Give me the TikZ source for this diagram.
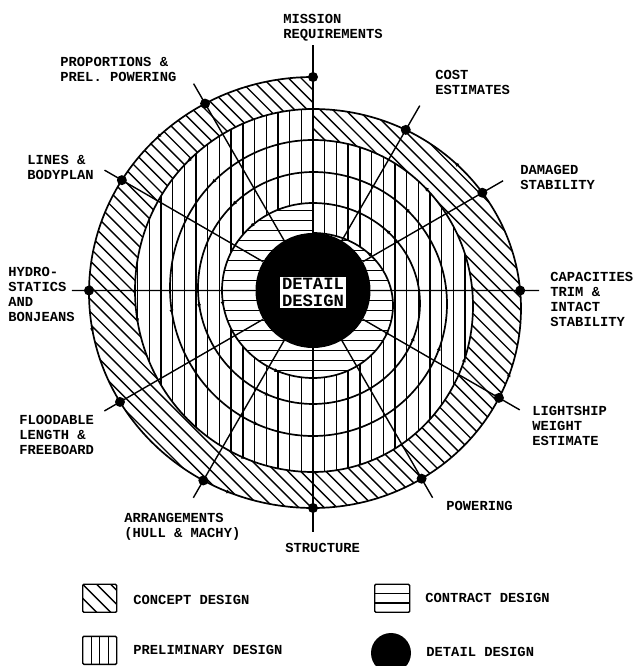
\documentclass[tikz,border=0pt]{standalone}
\usepackage{fontspec}
\setmonofont{Liberation Mono}
\usepackage{tikz}
\usetikzlibrary{calc, intersections, arrows.meta, decorations.markings}

\newcommand{\spiraltip}{\arrow{Latex[length=2.8pt,width=2pt]}}

\tikzset{
  spiralline/.style={line width=0.85pt, black},
  hatchline/.style={line width=0.7pt, black},
  spoke/.style={line width=0.7pt, black},
  spokedot/.style={circle, fill=black, inner sep=0pt, minimum size=5pt},
  lbl/.style={anchor=north west, inner sep=0pt, align=left,
              font=\ttfamily\bfseries\fontsize{6.9pt}{7.5pt}\selectfont},
  legbox/.style={draw, line width=0.7pt, rounded corners=0.6pt, inner sep=0pt,
                 minimum width=17pt, minimum height=14pt, anchor=south west},
  % small direction marks along the spiral
  leftmarks/.style={postaction={decorate, decoration={markings,
      mark=at position 0.25 with {\spiraltip},
      mark=at position 0.56 with {\spiraltip},
      mark=at position 0.88 with {\spiraltip}}}},
  rightmarks/.style={postaction={decorate, decoration={markings,
      mark=at position 0.40 with {\spiraltip},
      mark=at position 0.76 with {\spiraltip}}}},
}

\begin{document}
\begin{tikzpicture}[x=0.5pt, y=0.5pt]
\useasboundingbox (0,0) rectangle (633,666);
\fill[white] (0,0) rectangle (633,666);

%% ── spiral anchor points (top / bottom of each half turn) ──
\coordinate (C) at (313,375.5);
\foreach \i/\y in {0/589, 1/557, 2/526, 3/494, 4/463, 5/433}
  \coordinate (T\i) at (313,\y);
\foreach \i/\y in {0/158, 1/194, 2/230, 3/262, 4/288}
  \coordinate (B\i) at (313,\y);

%% ── concept design band (outer turn) ──
\begin{scope}
  \clip (T0) arc[start angle=90, end angle=270, x radius=224, y radius=215.5]
             arc[start angle=-90, end angle=90, x radius=208, y radius=199.5]
        -- (T2) arc[start angle=90, end angle=-90, x radius=160, y radius=166]
             arc[start angle=270, end angle=90, x radius=178, y radius=181.5] -- cycle;
  \foreach \c in {0,12.7,...,1350}
    \draw[hatchline] (\c,0) -- ++(-700,700);
\end{scope}

%% ── preliminary design band (three turns) ──
\begin{scope}
  \clip (T1) arc[start angle=90, end angle=270, x radius=178, y radius=181.5]
             arc[start angle=-90, end angle=90, x radius=160, y radius=166]
        -- (T5) arc[start angle=90, end angle=-90, x radius=80, y radius=72.5]
             arc[start angle=270, end angle=90, x radius=91, y radius=87.5] -- cycle;
  \foreach \k in {-21,...,21}
    \draw[hatchline] ({313+11.7*\k},0) -- ++(0,666);
\end{scope}

%% ── contract design band (innermost turn) ──
\begin{scope}
  \clip (T4) arc[start angle=90, end angle=270, x radius=91, y radius=87.5]
             arc[start angle=-90, end angle=90, x radius=80, y radius=72.5] -- cycle;
  \foreach \k in {-10,...,10}
    \draw[hatchline] (0,{375.5+10*\k}) -- ++(633,0);
\end{scope}

%% ── the spiral itself ──
\foreach \i/\xr/\yr in {0/224/215.5, 1/178/181.5, 2/143/148, 3/115/116, 4/91/87.5}
  \draw[spiralline, leftmarks] (T\i) arc[start angle=90, end angle=270, x radius=\xr, y radius=\yr];
\foreach \i/\xr/\yr in {0/208/199.5, 1/160/166, 2/134/132, 3/107/100.5, 4/80/72.5}
  \draw[spiralline, rightmarks] (B\i) arc[start angle=-90, end angle=90, x radius=\xr, y radius=\yr];

%% ── spoke points on the outer turn ──
\path[name path=outerturn] (T0) arc[start angle=90, end angle=270, x radius=224, y radius=215.5]
                                arc[start angle=-90, end angle=90, x radius=208, y radius=199.5];
\coordinate (dmis) at (T0);
\coordinate (dstr) at (B0);
\foreach \ang/\nm in {0/cap, 30/dam, 60/cost, 120/prop, 150/lines, 180/hydro,
                      210/flood, 240/arr, 300/pow, 330/light} {
  \path[name path=ray] (C) -- ++(\ang:300);
  \path[name intersections={of=outerturn and ray, by=d\nm}];
}

%% ── detail design core ──
\node[circle, fill=black, inner sep=0pt, minimum size=57.5pt] (detaildisk) at (C) {};

\foreach \nm/\len in {mis/16pt, cost/14pt, dam/12pt, cap/9.5pt, light/12pt, pow/11pt,
                      str/12pt, arr/10pt, flood/9pt, hydro/8.5pt, lines/10pt, prop/11.5pt} {
  \coordinate (e\nm) at ($(d\nm)!-\len!(C)$);
  \draw[spoke] (detaildisk) -- (e\nm);
}
\foreach \nm in {mis, cost, dam, cap, light, pow, str, arr, flood, hydro, lines, prop}
  \node[spokedot] (p\nm) at (d\nm) {};

\node[draw, fill=white, line width=0.8pt, inner sep=1.2pt, align=center,
      font=\ttfamily\bfseries\fontsize{8.6pt}{8.2pt}\selectfont] (detlabel) at (313,373.5) {DETAIL\\DESIGN};

%% ── step labels ──
\node[lbl] (lmis)   at (283,652) {MISSION\\REQUIREMENTS};
\node[lbl] (lcost)  at (435,596) {COST\\ESTIMATES};
\node[lbl] (ldam)   at (520,501) {DAMAGED\\STABILITY};
\node[lbl] (lcap)   at (550,394) {CAPACITIES\\TRIM \&\\INTACT\\STABILITY};
\node[lbl] (llight) at (532,260) {LIGHTSHIP\\WEIGHT\\ESTIMATE};
\node[lbl] (lpow)   at (446,165) {POWERING};
\node[lbl] (lstr)   at (285,123) {STRUCTURE};
\node[lbl] (larr)   at (124,153) {ARRANGEMENTS\\(HULL \& MACHY)};
\node[lbl] (lflood) at (19,251)  {FLOODABLE\\LENGTH \&\\FREEBOARD};
\node[lbl] (lhydro) at (8,399)   {HYDRO-\\STATICS\\AND\\BONJEANS};
\node[lbl] (llines) at (27,511)  {LINES \&\\BODYPLAN};
\node[lbl] (lprop)  at (60,609)  {PROPORTIONS \&\\PREL. POWERING};

%% ── legend ──
\node[legbox, path picture={\foreach \s in {-2,...,2}
        \draw[hatchline] ([xshift=\s*7pt]path picture bounding box.north west) -- ++(16pt,-16pt);}]
      (keyconcept) at (82,53) {};
\node[lbl] (tconcept) at (133,71) {CONCEPT DESIGN};
\node[legbox, path picture={\foreach \s in {1,2,3}
        \draw[hatchline] ([xshift=\s*4.25pt]path picture bounding box.north west) -- ++(0,-14pt);}]
      (keyprelim) at (82,1) {};
\node[lbl] (tprelim) at (133,21) {PRELIMINARY DESIGN};
\node[legbox, minimum width=17.5pt, path picture={\foreach \s in {1,2}
        \draw[hatchline] ([yshift=-\s*4.67pt]path picture bounding box.north west) -- ++(17.5pt,0);}]
      (keycontract) at (374,53) {};
\node[lbl] (tcontract) at (425,73) {CONTRACT DESIGN};
\node[circle, fill=black, inner sep=0pt, minimum size=20pt] (keydetail) at (391,13) {};
\node[lbl] (tdetail) at (426,19) {DETAIL DESIGN};

\end{tikzpicture}
\end{document}
